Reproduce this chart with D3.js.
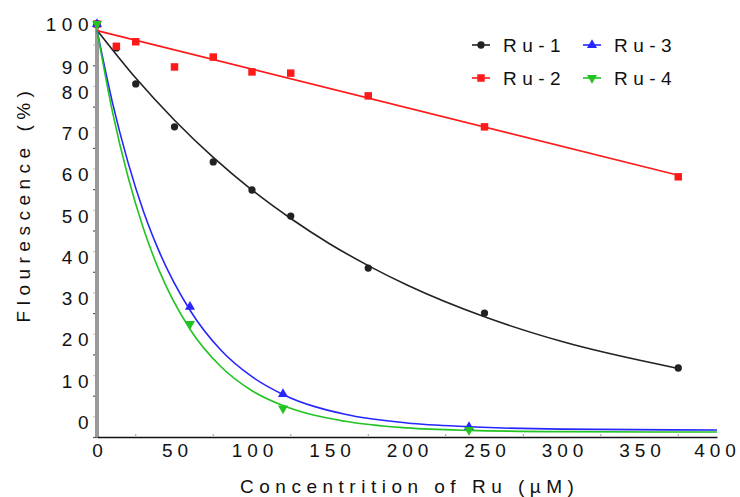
<!DOCTYPE html>
<html>
<head>
<meta charset="utf-8">
<script src="https://cdn.jsdelivr.net/npm/d3@7"></script>
<style>
	body { margin: 0; background: #fff; }
	svg text { font-family: "Liberation Sans", Arial, sans-serif; fill: #111; }
</style>
</head>
<body>
<svg id="chart" width="740" height="497"></svg>
<script>
// measured points (concentration in uM, fluorescence in %)
var concRu12 = [0, 12.5, 25, 50, 75, 100, 125, 175, 250, 375];
var ru1Values = [100, 94.2, 85.5, 75.1, 66.6, 59.8, 53.5, 40.9, 30.0, 16.7];
var ru2Values = [100, 94.6, 95.7, 89.6, 92.0, 88.4, 88.1, 82.6, 75.1, 63.0];
var concRu34 = [0, 60, 120, 240];
var ru3Values = [100, 31.5, 10.4, 2.4];
var ru4Values = [100, 27.4, 6.9, 1.7];

// fitted curves
var fitX1 = [0, 25, 50, 75, 100, 125, 150, 175, 200, 250, 300, 375];
var ru1Fit = [98.5, 86.9, 76.7, 67.7, 59.8, 52.9, 46.8, 41.5, 36.8, 29.1, 23.1, 16.6];
var fitX2 = [0, 375];
var ru2Fit = [98.4, 63.4];
var fitX34 = [0, 10, 20, 30, 40, 60, 80, 100, 120, 160, 200, 240, 300, 400];
var ru3Fit = [98.5, 80.9, 66.5, 54.6, 45.0, 30.7, 21.0, 14.6, 10.3, 5.5, 3.4, 2.5, 1.9, 1.7];
var ru4Fit = [98.5, 78.7, 63.0, 50.4, 40.4, 26.1, 17.0, 11.2, 7.6, 3.8, 2.2, 1.6, 1.3, 1.2];

var xTicks = [0, 50, 100, 150, 200, 250, 300, 350, 400];
var yTicks = [0, 10, 20, 30, 40, 50, 60, 70, 80, 90, 100];

var series = [
	{ name: 'Ru-1', x: concRu12, y: ru1Values, fx: fitX1, fy: ru1Fit, color: '#222', symbol: d3.symbolCircle, size: 42, rot: 0 },
	{ name: 'Ru-2', x: concRu12, y: ru2Values, fx: fitX2, fy: ru2Fit, color: '#ff1a1a', symbol: d3.symbolSquare, size: 56, rot: 0 },
	{ name: 'Ru-3', x: concRu34, y: ru3Values, fx: fitX34, fy: ru3Fit, color: '#2626ff', symbol: d3.symbolTriangle, size: 44, rot: 0 },
	{ name: 'Ru-4', x: concRu34, y: ru4Values, fx: fitX34, fy: ru4Fit, color: '#22c322', symbol: d3.symbolTriangle, size: 44, rot: 180 }
];

var svg = d3.select('#chart'),
	ls = 5.5;

var x = d3.scaleLinear().domain([0, 400]).range([97, 717]);
var y = d3.scaleLinear().domain([0, 100]).range([437, 24]);

// y axis: thick grey spine with ticks every 5
var yAxis = svg.append('g').attr('transform', 'translate(97,0)')
	.call(d3.axisLeft(y).tickValues(d3.range(0, 101, 5)).tickSize(4).tickFormat(''));
yAxis.select('.domain').remove();
yAxis.selectAll('.tick line')
	.attr('stroke', function (d) { return d % 10 === 0 ? '#555' : '#c8c8c8'; })
	.attr('stroke-width', 1.2);
yAxis.append('line')
	.attr('y1', y(100) - 1).attr('y2', y(0))
	.attr('stroke', '#9a9a9a').attr('stroke-width', 4);

// tick labels (the original places the lower ones a bit above their ticks)
svg.append('g').selectAll('text')
	.data(yTicks)
	.enter().append('text')
	.attr('x', 94)
	.attr('y', function (d) { return y(d) + (d >= 100 ? 7 : d >= 90 ? 9 : -8); })
	.attr('text-anchor', 'end')
	.style('font-size', '19px')
	.style('letter-spacing', ls + 'px')
	.text(function (d) { return d; });

// x axis
var xAxis = svg.append('g').attr('transform', 'translate(0,437)')
	.call(d3.axisBottom(x).tickValues(xTicks).tickSize(0).tickPadding(4));
xAxis.select('.domain').attr('stroke', '#111').attr('stroke-width', 1.5);
xAxis.selectAll('.tick text')
	.attr('dx', function (d) { return d === 400 ? 0 : 2.5; })
	.attr('dy', '0.82em')
	.style('font-size', '19px')
	.style('letter-spacing', '5px')
	.attr('fill', '#111');
svg.append('g').selectAll('line')
	.data(d3.range(25, 400, 50))
	.enter().append('line')
	.attr('x1', function (d) { return x(d); }).attr('x2', function (d) { return x(d); })
	.attr('y1', 434).attr('y2', 436)
	.attr('stroke', '#999');

// axis titles
svg.append('text')
	.attr('x', 407 + ls / 2).attr('y', 493)
	.attr('text-anchor', 'middle')
	.style('font-size', '19px')
	.style('letter-spacing', ls + 'px')
	.text('Concentrition of Ru (\u00b5M)');

svg.append('text')
	.attr('transform', 'translate(30,204) rotate(-90)')
	.attr('text-anchor', 'middle')
	.style('font-size', '19px')
	.style('letter-spacing', ls + 'px')
	.text('Flourescence (%)');

// fit lines
var line = d3.line()
	.x(function (d) { return x(d[0]); })
	.y(function (d) { return y(d[1]); })
	.curve(d3.curveMonotoneX);

svg.append('g').selectAll('path')
	.data(series)
	.enter().append('path')
	.attr('d', function (s) { return line(d3.zip(s.fx, s.fy)); })
	.attr('fill', 'none')
	.attr('stroke', function (s) { return s.color; })
	.attr('stroke-width', 1.6);

// markers
series.forEach(function (s) {
	svg.append('g').selectAll('path')
		.data(d3.zip(s.x, s.y))
		.enter().append('path')
		.attr('d', d3.symbol().type(s.symbol).size(s.size))
		.attr('transform', function (d) {
			return 'translate(' + x(d[0]) + ',' + y(d[1]) + ') rotate(' + s.rot + ')';
		})
		.attr('fill', s.color);
});

// legend
var legend = svg.append('g');
var legendItems = legend.selectAll('g')
	.data(series)
	.enter().append('g')
	.attr('transform', function (s, i) {
		return 'translate(' + (472 + Math.floor(i / 2) * 111) + ',' + (45 + (i % 2) * 33) + ')';
	});
legendItems.append('line')
	.attr('x1', 0).attr('x2', 18)
	.attr('stroke', function (s) { return s.color; })
	.attr('stroke-width', 1.6);
legendItems.append('path')
	.attr('d', function (s) { return d3.symbol().type(s.symbol).size(s.size)(); })
	.attr('transform', function (s) { return 'translate(9,0) rotate(' + s.rot + ')'; })
	.attr('fill', function (s) { return s.color; });
legendItems.append('text')
	.attr('x', 31).attr('y', 7)
	.style('font-size', '19px')
	.style('letter-spacing', ls + 'px')
	.text(function (s) { return s.name; });
</script>
</body>
</html>
